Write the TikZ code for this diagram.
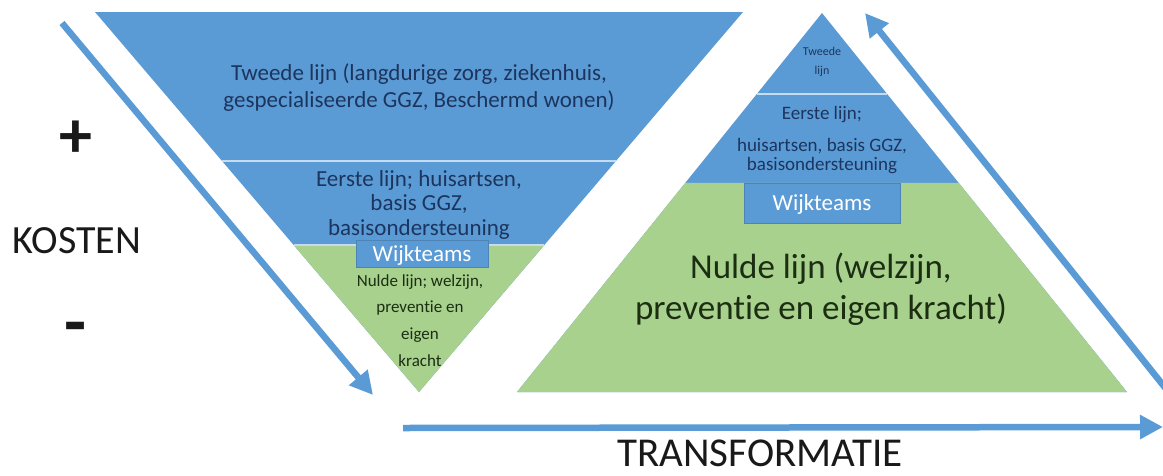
\documentclass[tikz,border=0pt]{standalone}
\usepackage{fontspec}
\setmainfont{Carlito}[RawFeature={-liga}]
\usetikzlibrary{arrows.meta,calc}
\definecolor{zblue}{HTML}{5B9BD5}
\definecolor{zgreen}{HTML}{A9D18E}
\definecolor{zdark}{HTML}{1C355E}
\definecolor{zgtext}{HTML}{1B2E12}
\definecolor{zline}{HTML}{C5DCF0}
\begin{document}
\begin{tikzpicture}[x=1pt,y=-1pt,
  fs/.style={font=\fontsize{#1}{#1}\selectfont},
  fsb/.style={font=\fontsize{#1}{#1}\selectfont\bfseries},
  bluetxt/.style={text=zdark,inner sep=0pt,anchor=base},
  greentxt/.style={text=zgtext,inner sep=0pt,anchor=base},
  blacktxt/.style={text=black!90,inner sep=0pt,anchor=base},
  band/.style={draw=zline,line width=1.5pt},
  wbox/.style={fill=zblue,draw=zblue!85!black,line width=0.6pt,text=white,inner sep=0pt,text height=15pt,text depth=0pt},
  bigarrow/.style={draw=zblue,line width=6.5pt,-{Triangle[length=23pt,width=23pt]}}]
\clip (0,0) rectangle (1163,475);
\fill[white] (0,0) rectangle (1163,475);
% left inverted triangle
\coordinate (LTL) at (95,12);
\coordinate (LTR) at (743,12);
\coordinate (LA) at (419,392);
\fill[zblue] (LTL) -- (LTR) -- (LA) -- cycle;
\coordinate (L1l) at ($(LTL)!0.392!(LA)$);
\coordinate (L1r) at ($(LTR)!0.392!(LA)$);
\coordinate (L2l) at ($(LTL)!0.613!(LA)$);
\coordinate (L2r) at ($(LTR)!0.613!(LA)$);
\fill[zgreen] (L2l) -- (L2r) -- (LA) -- cycle;
\draw[band] (L1l) -- (L1r);
\draw[band] (L2l) -- (L2r);
% right pyramid
\coordinate (RA) at (822,13);
\coordinate (RBL) at (517,392);
\coordinate (RBR) at (1127,392);
\fill[zblue] (RA) -- (RBR) -- (RBL) -- cycle;
\coordinate (R1l) at ($(RA)!0.2137!(RBL)$);
\coordinate (R1r) at ($(RA)!0.2137!(RBR)$);
\coordinate (R2l) at ($(RA)!0.4485!(RBL)$);
\coordinate (R2r) at ($(RA)!0.4485!(RBR)$);
\fill[zgreen] (R2l) -- (R2r) -- (RBR) -- (RBL) -- cycle;
\draw[band] (R1l) -- (R1r);
% Wijkteams boxes
\node[wbox,fs=23,minimum width=132pt,minimum height=27pt] (lwb) at (422,253.5) {Wijkteams};
\node[wbox,fs=23,minimum width=156pt,minimum height=40pt] (rwb) at (822,203) {Wijkteams};
% left texts
\node[bluetxt,fs=23] (lt1) at (419,80) {Tweede lijn (langdurige zorg, ziekenhuis,};
\node[bluetxt,fs=23] (lt2) at (419,107) {gespecialiseerde GGZ, Beschermd wonen)};
\node[bluetxt,fs=23] (le1) at (419,186) {Eerste lijn; huisartsen,};
\node[bluetxt,fs=23] (le2) at (419,210) {basis GGZ,};
\node[bluetxt,fs=23] (le3) at (419,235) {basisondersteuning};
\node[greentxt,fs=17] (ln1) at (420,286) {Nulde lijn; welzijn,};
\node[greentxt,fs=17] (ln2) at (420,312) {preventie en};
\node[greentxt,fs=17] (ln3) at (420,339) {eigen};
\node[greentxt,fs=17] (ln4) at (420,366) {kracht};
% right texts
\node[bluetxt,fs=12] (rt1) at (822,55) {Tweede};
\node[bluetxt,fs=12] (rt2) at (822,74) {lijn};
\node[bluetxt,fs=19] (re1) at (822,119) {Eerste lijn;};
\node[bluetxt,fs=19] (re2) at (822,151) {huisartsen, basis GGZ,};
\node[bluetxt,fs=19] (re3) at (822,170) {basisondersteuning};
\node[greentxt,fs=35] (rn1) at (821,278) {Nulde lijn (welzijn,};
\node[greentxt,fs=35] (rn2) at (821,319) {preventie en eigen kracht)};
% axis labels
\node[blacktxt,fsb=66,anchor=center] (plus) at (76,139) {+};
\node[blacktxt,fs=40] (kosten) at (77,253) {KOSTEN};
\node[blacktxt,fsb=72,anchor=center] (minus) at (76,334) {-};
\node[blacktxt,fs=41] (transf) at (760,466) {TRANSFORMATIE};
% arrows
\coordinate (a1s) at (62,23);
\coordinate (a1e) at (373,395);
\coordinate (a2s) at (1175,400);
\coordinate (a2e) at (865,13);
\coordinate (a3s) at (403,428);
\coordinate (a3e) at (1163,427);
\draw[bigarrow] (a1s) -- (a1e);
\draw[bigarrow] (a2s) -- (a2e);
\draw[bigarrow] (a3s) -- (a3e);
\end{tikzpicture}
\end{document}
